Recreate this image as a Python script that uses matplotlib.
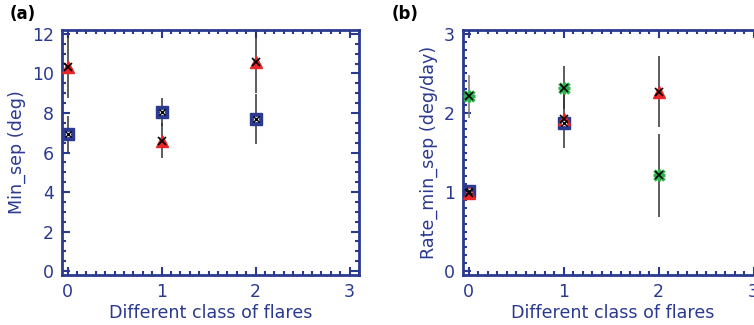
import numpy as np
import matplotlib.pyplot as plt
from matplotlib.ticker import MultipleLocator

navy = '#2b3a8f'
red = '#e8262a'
green = '#2db34a'

# panel (a): Min_sep (deg)
a_sq_x = [0, 1, 2]
a_sq_y = [6.95, 8.05, 7.7]
a_sq_err = [0.9, 0.7, 1.25]
a_tri_x = [0, 1, 2]
a_tri_y = [10.35, 6.6, 10.6]
a_tri_err = [1.6, 0.9, 1.6]

# panel (b): Rate_min_sep (deg/day)
b_sq_x = [0, 1]
b_sq_y = [1.01, 1.87]
b_sq_err = [0.0, 0.0]
b_tri_x = [0, 1, 2]
b_tri_y = [0.99, 1.93, 2.27]
b_tri_err = [0.0, 0.37, 0.45]
b_gr_x = [0, 1, 2]
b_gr_y = [2.21, 2.32, 1.21]
b_gr_err = [0.27, 0.27, 0.53]

fig = plt.figure(figsize=(7.54, 3.25), dpi=100)
ax1 = fig.add_axes([62/754, 1-275/325, 297/754, 245/325])
ax2 = fig.add_axes([463/754, 1-275/325, 300/754, 245/325])


def style(ax, ylim, ymaj, ymin, ylabel):
    ax.set_xlim(-0.06, 3.1)
    ax.set_ylim(*ylim)
    ax.xaxis.set_major_locator(MultipleLocator(1))
    ax.xaxis.set_minor_locator(MultipleLocator(0.1))
    ax.yaxis.set_major_locator(MultipleLocator(ymaj))
    ax.yaxis.set_minor_locator(MultipleLocator(ymin))
    ax.tick_params(which='both', direction='in', top=True, right=True,
                   color=navy, labelcolor=navy, labelsize=12.5, width=1.5)
    ax.tick_params(which='major', length=6, pad=6)
    ax.tick_params(which='minor', length=3)
    for s in ax.spines.values():
        s.set_color(navy)
        s.set_linewidth(2)
    ax.set_xlabel('Different class of flares', color=navy, fontsize=12.6, labelpad=2)
    ax.set_ylabel(ylabel, color=navy, fontsize=12.6, labelpad=4)


def errs(ax, x, y, e, c='#303030'):
    ax.errorbar(x, y, yerr=e, fmt='none', ecolor=c, elinewidth=1.1, capsize=0, zorder=2)


def squares(ax, x, y):
    ax.plot(x, y, 's', color=navy, ms=8, mec=navy, zorder=3)
    ax.plot(x, y, 'x', color='white', ms=3, mew=2, zorder=4)
    ax.plot(x, y, 'x', color='black', ms=5, mew=1, zorder=5)


def triangles(ax, x, y):
    ax.plot(x, y, '^', color=red, ms=8.5, zorder=3)
    ax.plot(x, y, 'x', color='black', ms=5.5, mew=1.2, zorder=5)


def greens(ax, x, y):
    ax.plot(x, y, '+', color=green, ms=8, mew=2.5, zorder=3)
    ax.plot(x, y, 'x', color=green, ms=7, mew=2.5, zorder=3)
    ax.plot(x, y, 'x', color='black', ms=5.5, mew=1.2, zorder=5)


errs(ax1, a_sq_x, a_sq_y, a_sq_err)
errs(ax1, a_tri_x, a_tri_y, a_tri_err)
squares(ax1, a_sq_x, a_sq_y)
triangles(ax1, a_tri_x, a_tri_y)
style(ax1, (-0.2, 12.2), 2, 0.5, 'Min_sep (deg)')

errs(ax2, b_tri_x, b_tri_y, b_tri_err)
errs(ax2, b_gr_x[:1], b_gr_y[:1], b_gr_err[:1], c='#777777')
errs(ax2, b_gr_x[1:], b_gr_y[1:], b_gr_err[1:])
squares(ax2, b_sq_x, b_sq_y)
triangles(ax2, b_tri_x, b_tri_y)
greens(ax2, b_gr_x, b_gr_y)
style(ax2, (-0.05, 3.05), 1, 0.1, 'Rate_min_sep (deg/day)')

fig.text(10/754, 1-14/325, '(a)', fontsize=12, fontweight='bold', va='center')
fig.text(392/754, 1-14/325, '(b)', fontsize=12, fontweight='bold', va='center')

fig.savefig('out.png', dpi=100)
